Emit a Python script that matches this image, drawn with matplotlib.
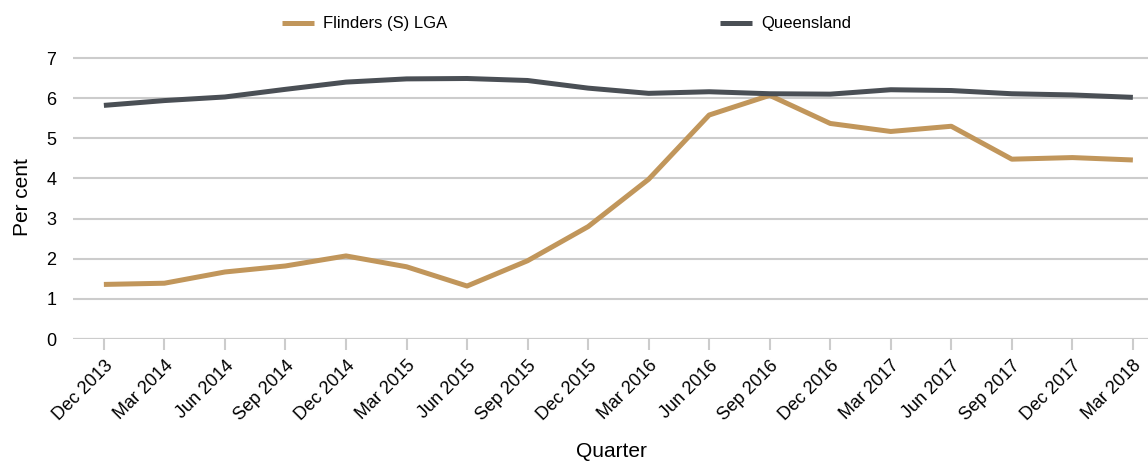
import matplotlib
matplotlib.use('Agg')
import matplotlib.pyplot as plt

plt.rcParams['font.family'] = ['Liberation Sans', 'DejaVu Sans']

quarters = ['Dec 2013', 'Mar 2014', 'Jun 2014', 'Sep 2014', 'Dec 2014', 'Mar 2015',
            'Jun 2015', 'Sep 2015', 'Dec 2015', 'Mar 2016', 'Jun 2016', 'Sep 2016',
            'Dec 2016', 'Mar 2017', 'Jun 2017', 'Sep 2017', 'Dec 2017', 'Mar 2018']
flinders = [1.36, 1.39, 1.67, 1.82, 2.07, 1.80, 1.32, 1.95, 2.80, 3.98, 5.58, 6.07,
            5.37, 5.17, 5.30, 4.48, 4.52, 4.46]
queensland = [5.82, 5.94, 6.03, 6.22, 6.40, 6.48, 6.49, 6.44, 6.25, 6.12, 6.16, 6.11,
              6.10, 6.21, 6.19, 6.11, 6.08, 6.02]

tan = '#C1965B'
slate = '#4A4F55'
grid = '#CCCCCC'

fig = plt.figure(figsize=(11.48, 4.61), dpi=100)
ax = fig.add_axes([0.0636, 0.2646, 0.9364, 0.6139])

x = range(len(quarters))
ax.plot(x, flinders, color=tan, lw=3.6, label='Flinders (S) LGA', solid_capstyle='butt', zorder=3)
ax.plot(x, queensland, color=slate, lw=3.6, label='Queensland', solid_capstyle='butt', zorder=3)

ax.set_xlim(-0.51, 17.25)
ax.set_ylim(0, 7.05)
ax.set_yticks(range(8))
ax.yaxis.grid(True, color=grid, lw=1.5)
ax.set_axisbelow(True)
for s in ax.spines.values():
    s.set_visible(False)

ax.set_xticks(list(x))
ax.set_xticklabels(quarters, rotation=45, ha='right', rotation_mode='anchor', fontsize=13)
ax.tick_params(axis='x', length=8, width=1.5, color=grid, pad=5)
ax.tick_params(axis='y', length=0, pad=12, labelsize=13)
ax.axhline(0, color=grid, lw=1.5, zorder=1)

ax.set_ylabel('Per cent', fontsize=15, labelpad=10)
fig.text(0.5325, 0.02, 'Quarter', fontsize=15, ha='center', va='center')

fig.legend(loc='center', bbox_to_anchor=(0.4935, 0.948), ncol=2, frameon=False,
           fontsize=12, handlelength=1.9, handletextpad=0.55, columnspacing=16.4)

fig.savefig('out.png', dpi=100)
